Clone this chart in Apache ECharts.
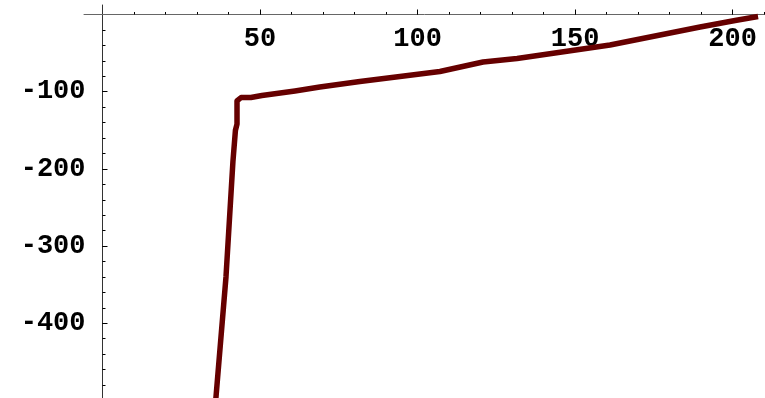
<!DOCTYPE html>
<html><head><meta charset="utf-8">
<script src="https://cdn.jsdelivr.net/npm/echarts@6/dist/echarts.min.js"></script>
<style>html,body{margin:0;padding:0;background:#fff}#c{width:765px;height:398px}</style>
</head><body><div id="c"></div>
<script>
const xValues = [36.0, 39.2, 41.4, 42.2, 42.7, 42.7, 44.0, 47.1, 50.6, 61.1, 69.0, 81.7, 94.4, 107.1, 120.8, 131.6, 161.1, 189.7, 200.8, 208.1];
const yValues = [-497, -340, -191, -150, -142, -112, -107.5, -107.5, -105, -99, -94, -86.8, -80.3, -73.8, -61.5, -57, -39.5, -16.2, -7.8, -2.6];
const xMajorTicks = [50, 100, 150, 200];
const xMinorTicks = [10, 20, 30, 40, 50, 60, 70, 80, 90, 100, 110, 120, 130, 140, 150, 160, 170, 180, 190, 200, 210];
const yMajorTicks = [-100, -200, -300, -400];
const yMinorTicks = [-20, -40, -60, -80, -100, -120, -140, -160, -180, -200, -220, -240, -260, -280, -300, -320, -340, -360, -380, -400, -420, -440, -460, -480];

const X_MIN = -5.87, X_MAX = 210.3, Y_MIN = -496.8, Y_MAX = 12.3;
const font = { fontFamily: 'Liberation Mono', fontWeight: 'bold', fontSize: 27, color: '#000' };
const gridBox = { left: 84, right: 0, top: 5, bottom: 0, outerBoundsMode: 'none', containLabel: false };

const chart = echarts.init(document.getElementById('c'), null, { renderer: 'canvas' });
chart.setOption({
  animation: false,
  grid: [
    gridBox,
    gridBox,
    { left: 102.5, right: 0, top: 14.5, bottom: 0, outerBoundsMode: 'none', containLabel: false }
  ],
  xAxis: [
    { type: 'value', gridIndex: 0, min: X_MIN, max: X_MAX,
      axisLine: { show: true, onZero: true, lineStyle: { color: '#666', width: 1 } },
      axisTick: { show: true, inside: true, length: 2.5, customValues: xMinorTicks, lineStyle: { color: '#000', width: 1 } },
      axisLabel: { show: false },
      splitLine: { show: false } },
    { type: 'value', gridIndex: 1, min: X_MIN, max: X_MAX,
      axisLine: { show: false, onZero: true },
      axisTick: { show: true, inside: true, length: 5, customValues: xMajorTicks, lineStyle: { color: '#000', width: 1 } },
      axisLabel: { show: false },
      splitLine: { show: false } },
    { type: 'value', gridIndex: 2, min: 0, max: X_MAX, position: 'top',
      axisLine: { show: false, onZero: false },
      axisTick: { show: false },
      axisLabel: { show: true, inside: true, customValues: xMajorTicks, margin: 11, ...font },
      splitLine: { show: false } }
  ],
  yAxis: [
    { type: 'value', gridIndex: 0, min: Y_MIN, max: Y_MAX,
      axisLine: { show: true, onZero: true, lineStyle: { color: '#333', width: 1 } },
      axisTick: { show: true, inside: true, length: 3, customValues: yMinorTicks, lineStyle: { color: '#000', width: 1 } },
      axisLabel: { show: false },
      splitLine: { show: false } },
    { type: 'value', gridIndex: 1, min: Y_MIN, max: Y_MAX,
      axisLine: { show: false, onZero: true },
      axisTick: { show: true, inside: true, length: 5, customValues: yMajorTicks, lineStyle: { color: '#000', width: 1 } },
      axisLabel: { show: false },
      splitLine: { show: false } },
    { type: 'value', gridIndex: 2, min: Y_MIN, max: 0, position: 'left',
      axisLine: { show: false, onZero: false },
      axisTick: { show: false },
      axisLabel: { show: true, customValues: yMajorTicks, margin: 17, ...font },
      splitLine: { show: false } }
  ],
  series: [{
    type: 'line', xAxisIndex: 0, yAxisIndex: 0,
    data: xValues.map((x, i) => [x, yValues[i]]),
    showSymbol: false, symbol: 'none', smooth: false, clip: true,
    lineStyle: { color: '#660000', width: 5.5, join: 'round', cap: 'butt' }
  }]
});
</script></body></html>
